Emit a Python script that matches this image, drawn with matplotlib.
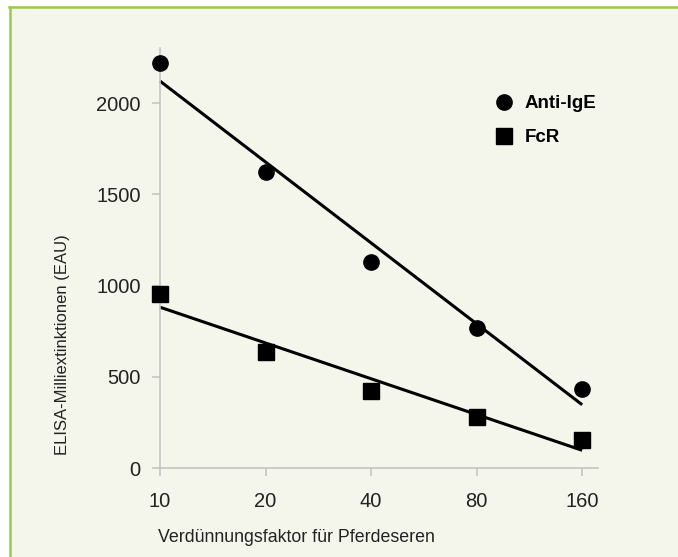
import matplotlib.pyplot as plt
import matplotlib.patches as patches
import numpy as np

# Dilution factors (evenly spaced categories) and ELISA readings
dilutions = ["10", "20", "40", "80", "160"]
anti_ige = [2222, 1621, 1131, 766, 431]
fcr = [954, 638, 424, 278, 153]

plt.rcParams["font.family"] = ["Liberation Sans", "DejaVu Sans"]

fig = plt.figure(figsize=(6.78, 5.57), dpi=100, facecolor="white")

# Pale panel with green border on top and left
fig.patches.append(patches.Rectangle((9 / 678, 0), 1, 1 - 6 / 557, transform=fig.transFigure,
                                     facecolor="#f4f6ec", edgecolor="none", zorder=-2))
fig.lines.append(plt.Line2D([9 / 678, 1], [1 - 7 / 557, 1 - 7 / 557], transform=fig.transFigure,
                            color="#9dc94a", lw=1.8, zorder=-1))
fig.lines.append(plt.Line2D([10 / 678, 10 / 678], [0, 1 - 7 / 557], transform=fig.transFigure,
                            color="#9dc94a", lw=1.8, zorder=-1))

ax = fig.add_axes([160 / 678, 1 - 468 / 557, (598 - 160) / 678, (468 - 48) / 557])
ax.set_facecolor("none")

x = np.arange(len(dilutions))

ax.plot(x, anti_ige, "o", color="black", markersize=11, label="Anti-IgE", zorder=3, clip_on=False)
ax.plot(x, fcr, "s", color="black", markersize=11.5, label="FcR", zorder=3, clip_on=False)

# Linear trend lines
for vals in (anti_ige, fcr):
    k, d = np.polyfit(x, vals, 1)
    ax.plot(x, k * x + d, color="black", lw=2.2, solid_capstyle="butt", zorder=2, clip_on=False)

ax.set_xlim(0, 4.15)
ax.set_ylim(0, 2303)
ax.set_xticks(x)
ax.set_xticklabels(dilutions)
ax.set_yticks([0, 500, 1000, 1500, 2000])

for side in ["top", "right"]:
    ax.spines[side].set_visible(False)
for side in ["left", "bottom"]:
    ax.spines[side].set_color("#c4c4c4")
    ax.spines[side].set_linewidth(1.2)
ax.tick_params(colors="#c4c4c4", labelcolor="#222222", labelsize=14.5, length=6, width=1.2)
ax.tick_params(axis="x", pad=11)
ax.tick_params(axis="y", pad=8)

fig.text(158 / 678, 1 - 537 / 557, "Verdünnungsfaktor für Pferdeseren", fontsize=12.8,
         color="#222222", ha="left", va="center")
fig.text(63 / 678, 1 - 345 / 557, "ELISA-Milliextinktionen (EAU)", fontsize=12,
         color="#222222", rotation=90, ha="center", va="center")

ax.legend(loc="upper left", bbox_to_anchor=(485 / 678, 1 - 86 / 557), bbox_transform=fig.transFigure,
          frameon=False, handlelength=1, handletextpad=0.6, labelspacing=0.9, borderpad=0,
          prop={"weight": "bold", "size": 13.5})

fig.savefig("out.png", dpi=100, facecolor=fig.get_facecolor())
